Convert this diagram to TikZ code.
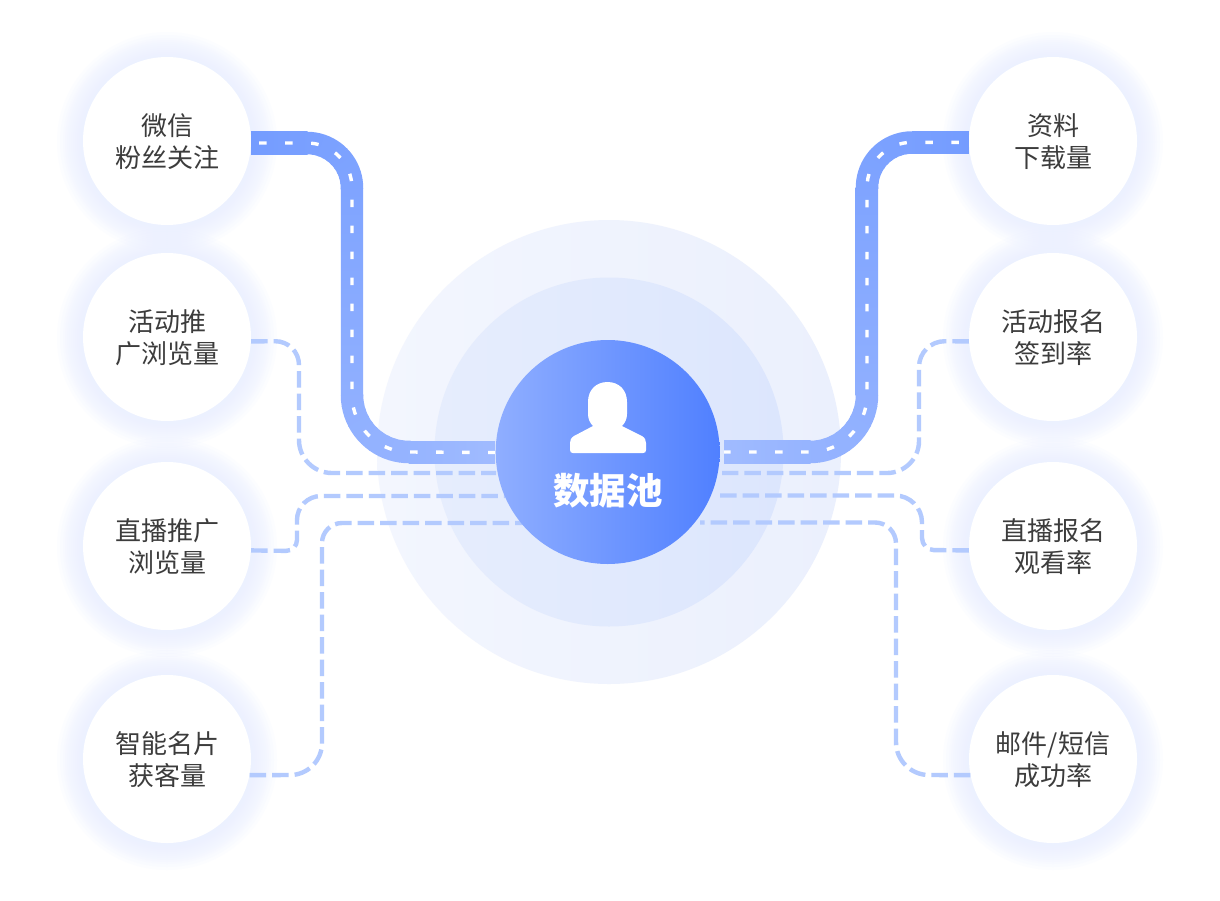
\documentclass[tikz,border=0pt]{standalone}
\usepackage{fontspec}
\usetikzlibrary{calc}
\setmainfont{Noto Sans CJK SC}
\definecolor{ringAa}{HTML}{F3F6FE}
\definecolor{ringAb}{HTML}{EBF0FD}
\definecolor{ringBa}{HTML}{E6EDFD}
\definecolor{ringBb}{HTML}{DCE6FD}
\definecolor{hubA}{HTML}{8FAEFF}
\definecolor{hubB}{HTML}{5080FF}
\definecolor{glowc}{HTML}{ECF1FF}
\definecolor{roadA}{HTML}{749CFF}
\definecolor{roadB}{HTML}{A0BBFF}
\definecolor{dashc}{HTML}{B3CAFE}
\definecolor{ink}{HTML}{3C3C3C}
\tikzset{
  card/.style={circle,fill=white,minimum size=168pt,inner sep=0pt},
  cardtext/.style={inner sep=0pt,text=ink,align=center,font=\fontsize{26}{32}\selectfont},
  linkline/.style={draw=dashc,line width=4.4pt,dash pattern=on 16.5pt off 6pt},
  laneline/.style={draw=white,line width=3.4pt,dash pattern=on 7.5pt off 18.5pt},
  roadseg/.style={line width=22.5pt},
}
\newcommand{\roadarc}[6]{%
  \foreach \i in {0,...,9}{%
    \pgfmathsetmacro{\aa}{#2+(#3-#2)*\i/10}%
    \pgfmathsetmacro{\bb}{#2+(#3-#2)*(\i+1.15)/10}%
    \pgfmathsetmacro{\pp}{#5+(#6-#5)*(\i+0.5)/10}%
    \draw[roadseg,draw=roadB!\pp!roadA] ($(#1)+(\aa:#4)$) arc (\aa:\bb:#4);
  }%
}
\begin{document}
\begin{tikzpicture}[x=1pt,y=1pt]
\useasboundingbox (0,0) rectangle (1220,-900);
\fill[white] (0,0) rectangle (1220,-900);
% rings
\shade[left color=ringAa,right color=ringAb] (609,-452) circle (232);
\shade[left color=ringBa,right color=ringBb] (609,-452) circle (174.5);
% glows
\foreach \x in {167,1053}\foreach \y in {141,337,546,759}{
  \foreach \k in {86,88,90,92,94,96,98,100,102,104,107,110}{
    \fill[glowc,opacity=0.14] (\x,-\y-1) circle (\k);
  }
}
\coordinate (hl1) at (495,-452.5);
\coordinate (hl2) at (496,-473);
\coordinate (hl3) at (505,-496);
\coordinate (hl4) at (525,-523);
\coordinate (hr1) at (724,-452);
\coordinate (hr2) at (722,-473);
\coordinate (hr3) at (716,-495.5);
\coordinate (hr4) at (700,-522.5);
% cards
\node[card] (l1) at (167,-141) {};
\node[card] (l2) at (167,-337) {};
\node[card] (l3) at (167,-546) {};
\node[card] (l4) at (167,-759) {};
\node[card] (r1) at (1053,-141) {};
\node[card] (r2) at (1053,-337) {};
\node[card] (r3) at (1053,-546) {};
\node[card] (r4) at (1053,-759) {};
\node[cardtext] (l1t) at (167,-141.5) {微信\\粉丝关注};
\node[cardtext] (l2t) at (167,-337.5) {活动推\\广浏览量};
\node[cardtext] (l3t) at (167,-546.5) {直播推广\\浏览量};
\node[cardtext] (l4t) at (167,-759.5) {智能名片\\获客量};
\node[cardtext] (r1t) at (1053,-141.5) {资料\\下载量};
\node[cardtext] (r2t) at (1053,-337.5) {活动报名\\签到率};
\node[cardtext] (r3t) at (1053,-546.5) {直播报名\\观看率};
\node[cardtext] (r4t) at (1053,-759.5) {邮件/短信\\成功率};
% dashed links
\draw[linkline] (l2.-3) [rounded corners=24pt] -- (299,-341) [rounded corners=33pt] -- (299,-473) -- (hl2);
\draw[linkline] (l3.-3) [rounded corners=11pt] -- (297,-551) [rounded corners=24pt] -- (297,-496) -- (hl3);
\draw[linkline] (l4.-11) [rounded corners=32pt] -- (322,-775) [rounded corners=20pt] -- (322,-523) -- (hl4);
\draw[linkline] (r2.183) [rounded corners=26pt] -- (919,-341) [rounded corners=32pt] -- (919,-473) -- (hr2);
\draw[linkline] (r3.183) [rounded corners=12pt] -- (922,-550) [rounded corners=27pt] -- (922,-495.5) -- (hr3);
\draw[linkline] (r4.191) [rounded corners=33pt] -- (896,-775) [rounded corners=21pt] -- (896,-522.5) -- (hr4);
% left road
\shade[left color=roadA,right color=roadB!12!roadA] (l1.east |- 0,-131.8) rectangle (307.5,-154.2);
\roadarc{307,-188}{90}{0}{45}{12}{26}
\shade[top color=roadB!26!roadA,bottom color=roadB!62!roadA] (340.8,-188) rectangle (363.2,-395);
\roadarc{409,-395}{180}{270}{57}{62}{76}
\shade[left color=roadB!76!roadA,right color=roadB] (408.5,-441.3) rectangle (hl1 |- 0,-463.7);
\draw[laneline,dash phase=18pt] (l1.east |- 0,-143) -- (307,-143) arc (90:0:45) -- (352,-395) arc (180:270:57) -- (hl1);
% right road
\shade[right color=roadA,left color=roadB!12!roadA] (r1.west |- 0,-131) rectangle (911.5,-153.5);
\roadarc{912,-187.5}{90}{180}{45}{12}{26}
\shade[top color=roadB!26!roadA,bottom color=roadB!62!roadA] (855.5,-187.5) rectangle (878,-395);
\roadarc{810,-395}{0}{-90}{57}{62}{76}
\shade[right color=roadB!76!roadA,left color=roadB] (810.5,-440.8) rectangle (hr1 |- 0,-463.2);
\draw[laneline,dash phase=16pt] (r1.west |- 0,-142.3) -- (912,-142.3) arc (90:180:45) -- (867,-395) arc (0:-90:57) -- (hr1);
% hub
\node[circle,minimum size=224pt,inner sep=0pt,left color=hubA,right color=hubB] (hub) at (607.7,-452) {};
\fill[white] (607.5,-382)
  .. controls (596,-382) and (588,-390) .. (588,-402)
  -- (588,-414)
  .. controls (588,-419) and (590,-423) .. (593,-426)
  -- (574,-436)
  .. controls (571,-438) and (570,-440) .. (570,-443)
  -- (570,-450)
  .. controls (570,-452) and (571,-453) .. (573,-453)
  -- (643,-453)
  .. controls (645,-453) and (646,-452) .. (646,-450)
  -- (646,-443)
  .. controls (646,-440) and (645,-438) .. (642,-436)
  -- (622,-426)
  .. controls (625,-423) and (627,-419) .. (627,-414)
  -- (627,-402)
  .. controls (627,-390) and (619,-382) .. (607.5,-382) -- cycle;
\node[text=white,inner sep=0pt,font=\fontsize{36.5}{40}\bfseries\selectfont] (hubtext) at (608,-491) {数据池};
\end{tikzpicture}
\end{document}
